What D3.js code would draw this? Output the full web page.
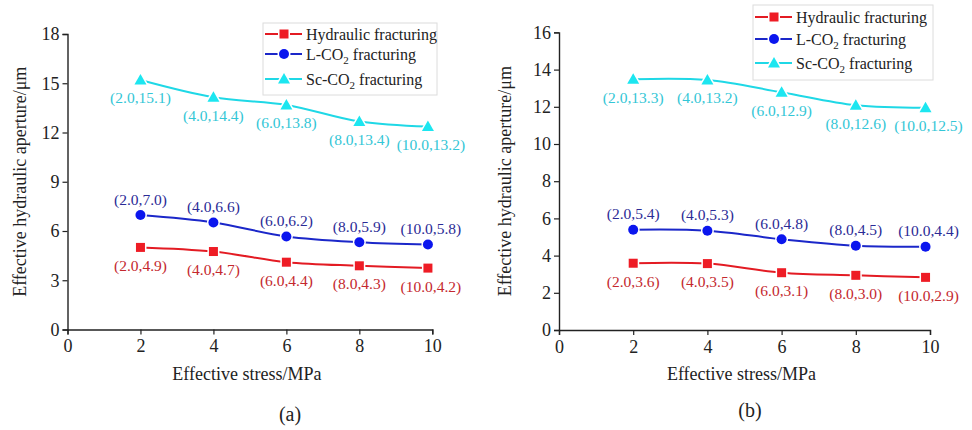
<!DOCTYPE html>
<html>
<head>
<meta charset="utf-8">
<script src="https://cdn.jsdelivr.net/npm/d3@7"></script>
<style>
  body { margin: 0; background: #fff; }
  text { font-family: "Liberation Serif", "Times New Roman", serif; }
</style>
</head>
<body>
<svg id="chart" width="972" height="430"></svg>
<script>
// stress values (last point sits a little left of the 10 tick in the figure)
var stress = [2, 4, 6, 8, 9.88];
var xTicks = [0, 2, 4, 6, 8, 10];

// panel (a)
var hydraulicA = [5.0, 4.75, 4.1, 3.88, 3.74];
var lco2A = [6.97, 6.52, 5.67, 5.32, 5.18];
var scco2A = [15.2, 14.15, 13.68, 12.67, 12.36];
var hydraulicLabelsA = ["(2.0,4.9)", "(4.0,4.7)", "(6.0,4.4)", "(8.0,4.3)", "(10.0,4.2)"];
var lco2LabelsA = ["(2.0,7.0)", "(4.0,6.6)", "(6.0,6.2)", "(8.0,5.9)", "(10.0,5.8)"];
var scco2LabelsA = ["(2.0,15.1)", "(4.0,14.4)", "(6.0,13.8)", "(8.0,13.4)", "(10.0,13.2)"];
var yTicksA = [0, 3, 6, 9, 12, 15, 18];

// panel (b)
var hydraulicB = [3.59, 3.57, 3.08, 2.94, 2.83];
var lco2B = [5.39, 5.34, 4.88, 4.53, 4.48];
var scco2B = [13.48, 13.44, 12.78, 12.08, 11.95];
var hydraulicLabelsB = ["(2.0,3.6)", "(4.0,3.5)", "(6.0,3.1)", "(8.0,3.0)", "(10.0,2.9)"];
var lco2LabelsB = ["(2.0,5.4)", "(4.0,5.3)", "(6.0,4.8)", "(8.0,4.5)", "(10.0,4.4)"];
var scco2LabelsB = ["(2.0,13.3)", "(4.0,13.2)", "(6.0,12.9)", "(8.0,12.6)", "(10.0,12.5)"];
var yTicksB = [0, 2, 4, 6, 8, 10, 12, 14, 16];

var seriesStyle = [
  { name: "Hydraulic fracturing", sub: null, line: "#e31b23", mark: "#ee1c25", text: "#c4282e", shape: "square", dy: 18 },
  { name: "L-CO", sub: "2", line: "#1b27c9", mark: "#0b16ee", text: "#2b2b96", shape: "circle", dy: -16 },
  { name: "Sc-CO", sub: "2", line: "#1fd8e6", mark: "#1ce6f0", text: "#33c6d6", shape: "triangle", dy: 18 }
];

var svg = d3.select("#chart");

function drawMarker(g, shape, x, y, color) {
  var m;
  if (shape === "square") {
    m = g.append("rect").attr("x", x - 4.5).attr("y", y - 4.5)
      .attr("width", 9).attr("height", 9);
  } else if (shape === "circle") {
    m = g.append("circle").attr("cx", x).attr("cy", y).attr("r", 5);
  } else {
    m = g.append("path").attr("d", "M" + x + "," + (y - 6) + "L" + (x + 6) + "," + (y + 4.5) + "L" + (x - 6) + "," + (y + 4.5) + "Z");
  }
  m.attr("fill", color).attr("stroke", "#fff").attr("stroke-width", 3).attr("paint-order", "stroke");
}

function drawPanel(p) {
  var x = d3.scaleLinear().domain([0, 10]).range([p.left, p.right]);
  var y = d3.scaleLinear().domain([0, p.yMax]).range([p.bottom, p.top]);
  var g = svg.append("g");

  var xAxis = g.append("g").attr("transform", "translate(0," + p.bottom + ")")
    .call(d3.axisBottom(x).tickValues(xTicks).tickFormat(d3.format("d")).tickSizeOuter(0).tickSize(5).tickPadding(5));
  var yAxis = g.append("g").attr("transform", "translate(" + p.left + ",0)")
    .call(d3.axisLeft(y).tickValues(p.yTicks).tickFormat(d3.format("d")).tickSizeOuter(0).tickSize(5).tickPadding(3));
  [xAxis, yAxis].forEach(function(a) {
    a.select(".domain").attr("stroke", "#222").attr("stroke-width", 1.4);
    a.selectAll(".tick line").attr("stroke", "#222").attr("stroke-width", 1.2);
    a.selectAll(".tick text").attr("fill", "#222").style("font-size", "18px")
      .style("font-family", "'Liberation Serif', 'Times New Roman', serif");
  });

  g.append("text").attr("x", (p.left + p.right) / 2 - 3).attr("y", p.bottom + 44)
    .attr("text-anchor", "middle").attr("dy", "0.35em").style("font-size", "18px").attr("fill", "#222")
    .text("Effective stress/MPa");
  g.append("text").attr("transform", "translate(" + p.titleX + "," + ((p.top + p.bottom) / 2) + ") rotate(-90)")
    .attr("text-anchor", "middle").attr("dy", "0.35em").style("font-size", "18px").attr("fill", "#222")
    .text("Effective hydraulic aperture/μm");
  g.append("text").attr("x", p.capX).attr("y", p.capY).attr("text-anchor", "middle").attr("dy", "0.35em")
    .style("font-size", "20px").attr("fill", "#222").text(p.caption);

  var line = d3.line()
    .x(function(d) { return x(d[0]); })
    .y(function(d) { return y(d[1]); })
    .curve(d3.curveCatmullRom.alpha(0.5));

  p.series.forEach(function(vals, i) {
    var st = seriesStyle[i];
    var pts = stress.map(function(s, j) { return [s, vals[j]]; });
    g.append("path").datum(pts).attr("d", line).attr("fill", "none")
      .attr("stroke", st.line).attr("stroke-width", 2);
    pts.forEach(function(d, j) {
      drawMarker(g, st.shape, x(d[0]), y(d[1]), st.mark);
      g.append("text").attr("x", x(d[0]) + (j === 4 ? 3 : 0)).attr("y", y(d[1]) + st.dy)
        .attr("dy", "0.35em").attr("text-anchor", "middle").style("font-size", "15.5px")
        .attr("fill", st.text).text(p.labels[i][j]);
    });
  });

  // legend
  var lg = g.append("g");
  lg.append("rect").attr("x", p.legend.x).attr("y", p.legend.y).attr("width", p.legend.w).attr("height", p.legend.h)
    .attr("fill", "#fff").attr("stroke", "#dcdcdc").attr("stroke-width", 1);
  seriesStyle.forEach(function(st, i) {
    var ry = p.legend.rowY[i];
    var lx = p.legend.x + 2;
    lg.append("line").attr("x1", lx).attr("x2", lx + 37).attr("y1", ry).attr("y2", ry)
      .attr("stroke", st.line).attr("stroke-width", 2);
    drawMarker(lg, st.shape, lx + 19, ry, st.mark);
    var t = lg.append("text").attr("x", lx + 41).attr("y", ry).attr("dy", "0.35em")
      .style("font-size", "16px").attr("fill", "#222");
    t.append("tspan").text(st.name);
    if (st.sub) {
      t.append("tspan").attr("dy", 4).style("font-size", "11px").text(st.sub);
      t.append("tspan").attr("dy", -4).text(" fracturing");
    }
  });
}

drawPanel({
  left: 67.5, right: 432.3, top: 34, bottom: 329.5, yMax: 18, yTicks: yTicksA,
  titleX: 20, caption: "(a)", capX: 290, capY: 414,
  series: [hydraulicA, lco2A, scco2A],
  labels: [hydraulicLabelsA, lco2LabelsA, scco2LabelsA],
  legend: { x: 263, y: 23, w: 174, h: 72, rowY: [34, 54, 79] }
});

drawPanel({
  left: 559, right: 930, top: 32.4, bottom: 330, yMax: 16, yTicks: yTicksB,
  titleX: 505, caption: "(b)", capX: 750, capY: 410,
  series: [hydraulicB, lco2B, scco2B],
  labels: [hydraulicLabelsB, lco2LabelsB, scco2LabelsB],
  legend: { x: 753, y: 5, w: 180, h: 75, rowY: [17, 39, 63] }
});
</script>
</body>
</html>
